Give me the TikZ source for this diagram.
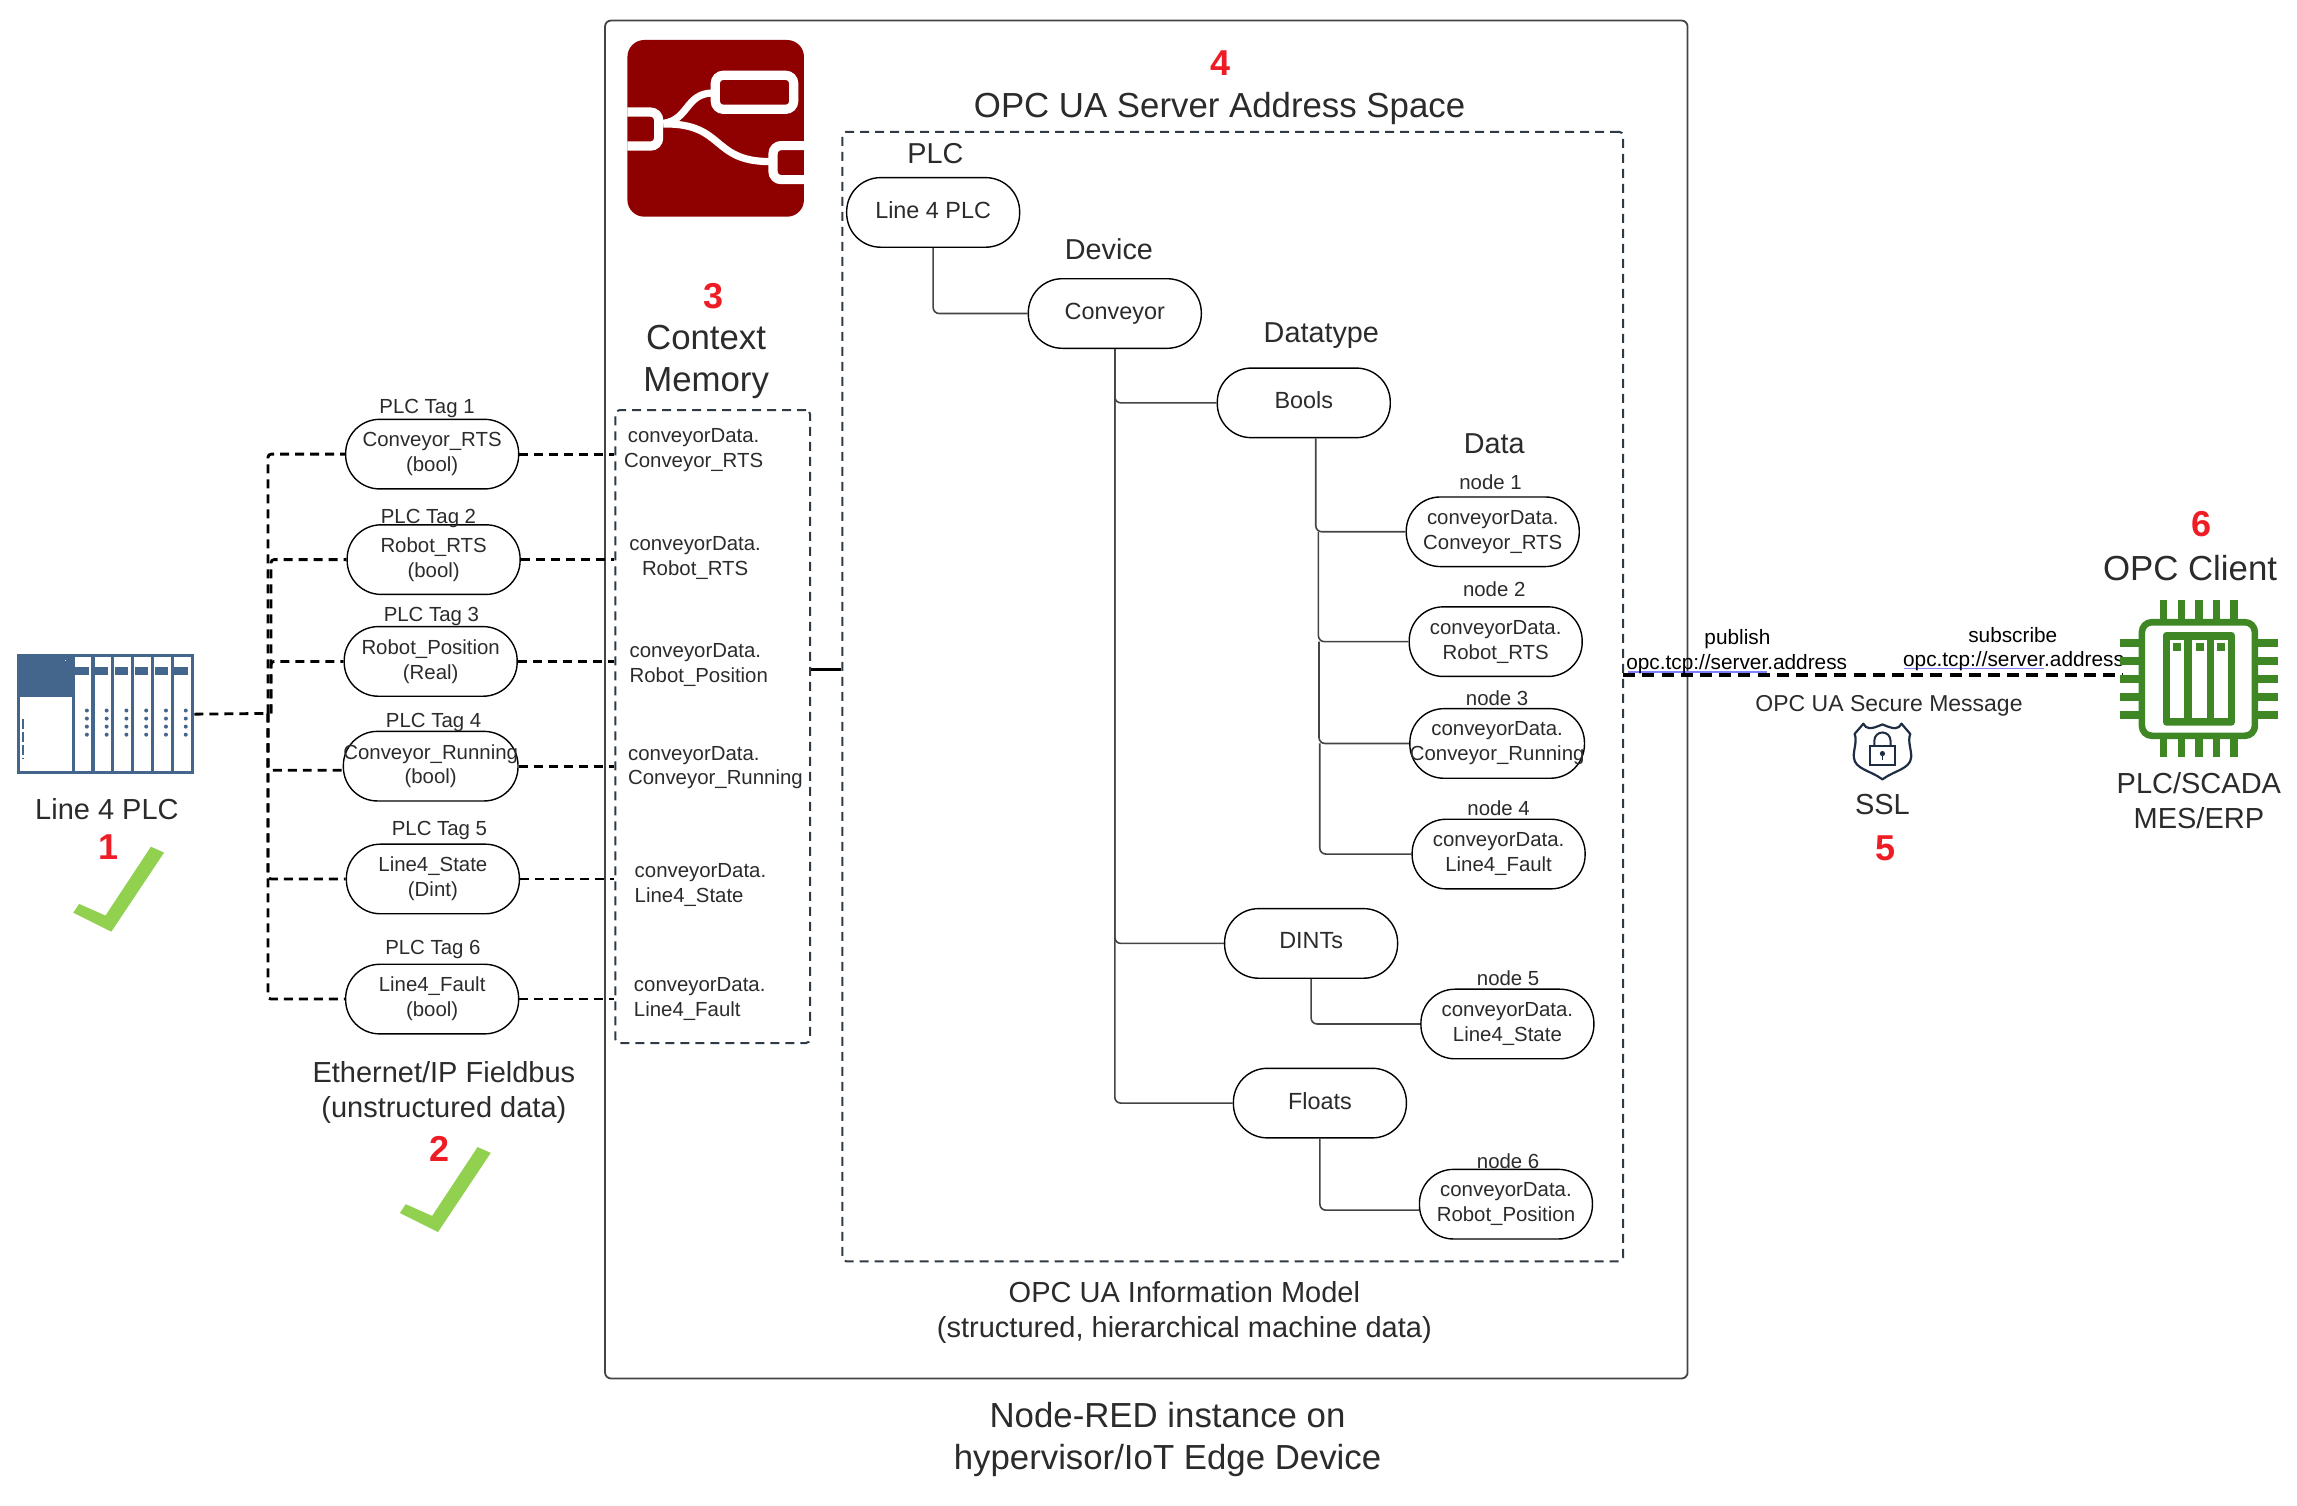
\documentclass[tikz,border=0pt]{standalone}
\usepackage{fontspec}
\setmainfont{Liberation Sans}
\definecolor{inktext}{HTML}{2B2B2B}
\definecolor{boxgray}{HTML}{444444}
\definecolor{slate}{HTML}{2E3A46}
\definecolor{plcblue}{HTML}{44658C}
\definecolor{noderedc}{HTML}{8F0000}
\definecolor{chipgreen}{HTML}{3F8624}
\definecolor{tickgreen}{HTML}{92D050}
\definecolor{numred}{HTML}{EE1C25}
\definecolor{navy}{HTML}{1F2D44}
\definecolor{linkblue}{HTML}{8080FF}
\tikzset{
  pill/.style={draw=black, line width=0.7pt, rectangle, rounded corners=17pt, minimum width=86.5pt, minimum height=34.8pt, inner sep=0pt, align=center, text=inktext, font=\fontsize{10.2}{12.4}\selectfont},
  bigpill/.style={pill, text depth=2.5pt, font=\fontsize{11.7}{14}\selectfont},
  small/.style={text=inktext, inner sep=0pt, align=center, font=\fontsize{10.2}{12.4}\selectfont},
  medium/.style={text=inktext, inner sep=0pt, align=center, font=\fontsize{14.5}{17.5}\selectfont},
  large/.style={text=inktext, inner sep=0pt, align=center, font=\fontsize{17.4}{21}\selectfont},
  number/.style={text=numred, inner sep=0pt, font=\fontsize{18}{20}\selectfont\bfseries},
  dashbox/.style={draw=slate, line width=1pt, dash pattern=on 4.5pt off 3pt, rounded corners=2pt, inner sep=0pt},
  bus/.style={draw=black, line width=1.4pt, dash pattern=on 4.5pt off 3pt, rounded corners=1.5pt},
  link/.style={draw=boxgray, line width=0.8pt, rounded corners=3pt},
  tick/.pic={\fill[tickgreen] (103,578) -- (112,582) -- (76,636) -- (50,623) -- (54,617) -- (72,625) -- cycle;}
}
\begin{document}
\begin{tikzpicture}[x=0.7325pt, y=-0.7325pt]
  \useasboundingbox (0,0) rectangle (1568,1027.4);

  \node[draw=boxgray, line width=0.9pt, rounded corners=3pt, minimum width=541.3pt, minimum height=679pt] (edge) at (782.5,477.5) {};
  \node[dashbox, minimum width=390.4pt, minimum height=564.8pt] (info) at (841.5,475.5) {};
  \node[dashbox, minimum width=97.4pt, minimum height=316.4pt] (mem) at (486.5,496) {};

  % node-red logo
  \fill[noderedc, rounded corners=8.4pt] (428.3,27.3) rectangle (548.8,147.9);
  \draw[white, line width=4.6pt, rounded corners=4pt] (488.3,51.4) rectangle (541.8,74.6);
  \draw[white, line width=4.6pt, rounded corners=4pt] (428.3,76.5) -- (449.6,76.5) -- (449.6,99.7) -- (428.3,99.7);
  \draw[white, line width=4.6pt, rounded corners=4pt] (548.8,99.4) -- (527.7,99.4) -- (527.7,122.6) -- (548.8,122.6);
  \draw[white, line width=3.6pt] (452.8,84.2) .. controls (470,82) and (468,64) .. (486,63.5);
  \draw[white, line width=3.6pt] (452.8,84.6) .. controls (495,84) and (485,110) .. (525,110.3);

  % plc rack
  \node[draw=plcblue, line width=1.7pt, minimum width=87.2pt, minimum height=58.6pt, inner sep=0pt] (plc) at (72,487.5) {};
  \fill[plcblue] (12,447.5) rectangle (50,476);
  \draw[white, line width=0.5pt] (44.5,451) -- (45,451);
  \foreach \x in {50,63.5,77,90.5,104,117.5} {
    \draw[plcblue, line width=1.6pt] (\x,447.5) -- (\x,527.5);
    \fill[plcblue] (\x+1.5,455) rectangle (\x+10.5,461);
    \foreach \y in {485,490.5,496,501.5}
      \fill[plcblue] (\x+9.3,\y) circle (1pt);
  }
  \draw[plcblue, line width=1.2pt, dash pattern=on 5pt off 1.5pt] (15.5,491) -- (15.5,518);

  \node[medium] (plclab) at (73,552) {Line 4 PLC};
  \node[number] (num1) at (74,578) {1};
  \pic at (0,0) {tick};

  % tags
  \node[pill] (t1) at (295,310) {Conveyor\_RTS\\(bool)};
  \node[pill] (t2) at (296,382) {Robot\_RTS\\(bool)};
  \node[pill] (t3) at (294,451.5) {Robot\_Position\\(Real)};
  \node[pill] (t4) at (294,523) {Conveyor\_Running\\(bool)};
  \node[pill] (t5) at (295.5,600) {Line4\_State\\(Dint)};
  \node[pill] (t6) at (295,682) {Line4\_Fault\\(bool)};
  \node[small] (t1lab) at (291.5,279) {PLC Tag 1};
  \node[small] (t2lab) at (292.5,354) {PLC Tag 2};
  \node[small] (t3lab) at (294.5,421) {PLC Tag 3};
  \node[small] (t4lab) at (296,493) {PLC Tag 4};
  \node[small] (t5lab) at (300,567) {PLC Tag 5};
  \node[small] (t6lab) at (295.5,648) {PLC Tag 6};

  \coordinate (hub) at (183,487);
  \draw[bus] (plc.east) -- (hub);
  \draw[bus] (hub) |- (t1.west);
  \draw[bus] ([xshift=1.5pt]hub) |- (t2.west);
  \draw[bus] ([xshift=1.5pt]hub) |- (t3.west);
  \draw[bus] (hub) |- ([yshift=-2pt]t4.west);
  \draw[bus] (hub) |- (t5.west);
  \draw[bus] (hub) |- (t6.west);
  \draw[bus] (t1.east) -- (t1.east -| mem.west);
  \draw[bus] (t2.east) -- (t2.east -| mem.west);
  \draw[bus] (t3.east) -- (t3.east -| mem.west);
  \draw[bus] (t4.east) -- (t4.east -| mem.west);
  \draw[bus] (t5.east) -- (t5.east -| mem.west);
  \draw[bus] (t6.east) -- (t6.east -| mem.west);

  \node[medium] (buslab) at (303,746) {Ethernet/IP Fieldbus\\(unstructured data)};
  \node[number] (num2) at (300,784) {2};
  \pic at (223,205) {tick};

  % context memory
  \node[number] (num3) at (487,202) {3};
  \node[large] (memlab) at (482,247) {Context\\Memory};
  \node[small] (m1) at (473.5,307.5) {conveyorData.\\Conveyor\_RTS};
  \node[small] (m2) at (474.5,381) {conveyorData.\\Robot\_RTS};
  \node[small, align=left, anchor=west] (m3) at (429.5,454) {conveyorData.\\Robot\_Position};
  \node[small, align=left, anchor=west] (m4) at (428.5,524) {conveyorData.\\Conveyor\_Running};
  \node[small, align=left, anchor=west] (m5) at (433,604) {conveyorData.\\Line4\_State};
  \node[small, align=left, anchor=west] (m6) at (432.5,682) {conveyorData.\\Line4\_Fault};

  \coordinate (memjoin) at (564,457);
  \draw[black, line width=1.4pt] (mem.east |- memjoin) -- (info.west |- memjoin);

  % address space
  \node[number] (num4) at (833,43) {4};
  \node[large] (infolab) at (832.5,74) {OPC UA Server Address Space};

  \node[bigpill] (line4) at (637,145) {Line 4 PLC};
  \node[bigpill] (conv) at (761,214) {Conveyor};
  \node[bigpill] (bools) at (890,275) {Bools};
  \node[bigpill] (dints) at (895,644) {DINTs};
  \node[bigpill] (floats) at (901,753) {Floats};
  \node[medium, font=\fontsize{14.4}{16}\selectfont] (plchead) at (638.5,105) {PLC};
  \node[medium, font=\fontsize{14.4}{16}\selectfont] (devhead) at (757,170) {Device};
  \node[medium, font=\fontsize{14.4}{16}\selectfont] (typehead) at (902,229) {Datatype};
  \node[medium, font=\fontsize{14.4}{16}\selectfont] (datahead) at (1020,303) {Data};

  \node[pill] (n1) at (1019,363) {conveyorData.\\Conveyor\_RTS};
  \node[pill] (n2) at (1021,438) {conveyorData.\\Robot\_RTS};
  \node[pill] (n3) at (1022,507.5) {conveyorData.\\Conveyor\_Running};
  \node[pill] (n4) at (1023,583) {conveyorData.\\Line4\_Fault};
  \node[pill] (n5) at (1029,699) {conveyorData.\\Line4\_State};
  \node[pill] (n6) at (1028,822) {conveyorData.\\Robot\_Position};
  \node[small] (n1lab) at (1017.5,329) {node 1};
  \node[small] (n2lab) at (1020,402) {node 2};
  \node[small] (n3lab) at (1022,476.5) {node 3};
  \node[small] (n4lab) at (1023,552) {node 4};
  \node[small] (n5lab) at (1029.5,668) {node 5};
  \node[small] (n6lab) at (1029.5,792.5) {node 6};

  \draw[link] (line4.south) |- (conv.west);
  \draw[link] (conv.south) |- (bools.west);
  \draw[link] (conv.south) |- (dints.west);
  \draw[link] (conv.south) |- (floats.west);
  \draw[link] ([xshift=6pt]bools.south) |- (n1.west);
  \draw[link] ([xshift=7.3pt]bools.south |- n1.west) |- (n2.west);
  \draw[link] ([xshift=7.6pt]bools.south |- n2.west) |- (n3.west);
  \draw[link] ([xshift=8pt]bools.south |- n3.west) |- (n4.west);
  \draw[link] (dints.south) |- (n5.west);
  \draw[link] (floats.south) |- ([yshift=-3pt]n6.west);

  \node[medium] (modellab) at (808.5,896) {OPC UA Information Model\\(structured, hierarchical machine data)};
  \node[large] (edgelab) at (797,982.5) {Node-RED instance on\\hypervisor/IoT Edge Device};

  % secure message
  \coordinate (pub) at (1108,461);
  \coordinate (sub) at (1449,461);
  \draw[draw=black, line width=2pt, dash pattern=on 6pt off 3.6pt] (pub) -- (sub);
  \draw[linkblue, line width=0.8pt] (1111,458.6) -- (1206,458.6);
  \draw[linkblue, line width=0.8pt] (1300,456.3) -- (1395,456.3);
  \node[small, text=black, font=\fontsize{10.4}{12}\selectfont] (publab) at (1186,436.5) {publish};
  \node[small, text=black, font=\fontsize{10.4}{12}\selectfont] (puburl) at (1185.5,453.5) {opc.tcp://server.address};
  \node[small, text=black, font=\fontsize{10.4}{12}\selectfont] (sublab) at (1374,433.5) {subscribe};
  \node[small, text=black, font=\fontsize{10.4}{12}\selectfont] (suburl) at (1374.5,451.5) {opc.tcp://server.address};
  \node[small, font=\fontsize{11.5}{14}\selectfont] (msglab) at (1289.5,482) {OPC UA Secure Message};

  % shield
  \draw[navy, line width=1.1pt, line join=round] (1272,494) .. controls (1274,498) and (1277,498) .. (1285,494.5) .. controls (1293,498) and (1296,498) .. (1298,494) -- (1304,501) .. controls (1302,506) and (1305,512) .. (1304.6,517) .. controls (1304,525) and (1293,526) .. (1285,532) .. controls (1277,526) and (1266,525) .. (1265.5,517) .. controls (1265,512) and (1268,506) .. (1266,501) -- cycle;
  \draw[navy, line width=1pt] (1276.7,509.4) rectangle (1293.7,522.4);
  \draw[navy, line width=1pt] (1279.5,509.4) -- (1279.5,505.5) arc[start angle=180, end angle=360, radius=5.5] -- (1290.5,509.4);
  \fill[navy] (1285,514.4) circle (1.3pt);
  \draw[navy, line width=0.8pt] (1285,514.4) -- (1285,519);
  \node[medium] (ssllab) at (1285,549.5) {SSL};
  \node[number] (num5) at (1287,579) {5};

  % opc client chip
  \node[number] (num6) at (1502.5,358) {6};
  \node[large] (clientlab) at (1495,388) {OPC Client};
  \foreach \x in {1477,1489,1501,1513,1525}
    \fill[chipgreen] (\x-2.5,409.6) rectangle (\x+2.5,517);
  \foreach \y in {439,451,463.6,475.7,487.8}
    \fill[chipgreen] (1447,\y-2.8) rectangle (1555,\y+2.8);
  \node[draw=chipgreen, fill=white, line width=3.3pt, rounded corners=5pt, minimum width=56.5pt, minimum height=56.8pt, inner sep=0pt] (chip) at (1500.7,463.5) {};
  \fill[chipgreen, rounded corners=1.5pt] (1476.6,431.5) rectangle (1525.5,495.3);
  \foreach \x in {1481,1496.3,1511} {
    \fill[white] (\x,437) rectangle (\x+10,490);
    \fill[chipgreen] (\x+2.6,439) rectangle (\x+8,444.5);
  }
  \node[medium] (chiplab) at (1501,546.5) {PLC/SCADA\\MES/ERP};
\end{tikzpicture}
\end{document}
